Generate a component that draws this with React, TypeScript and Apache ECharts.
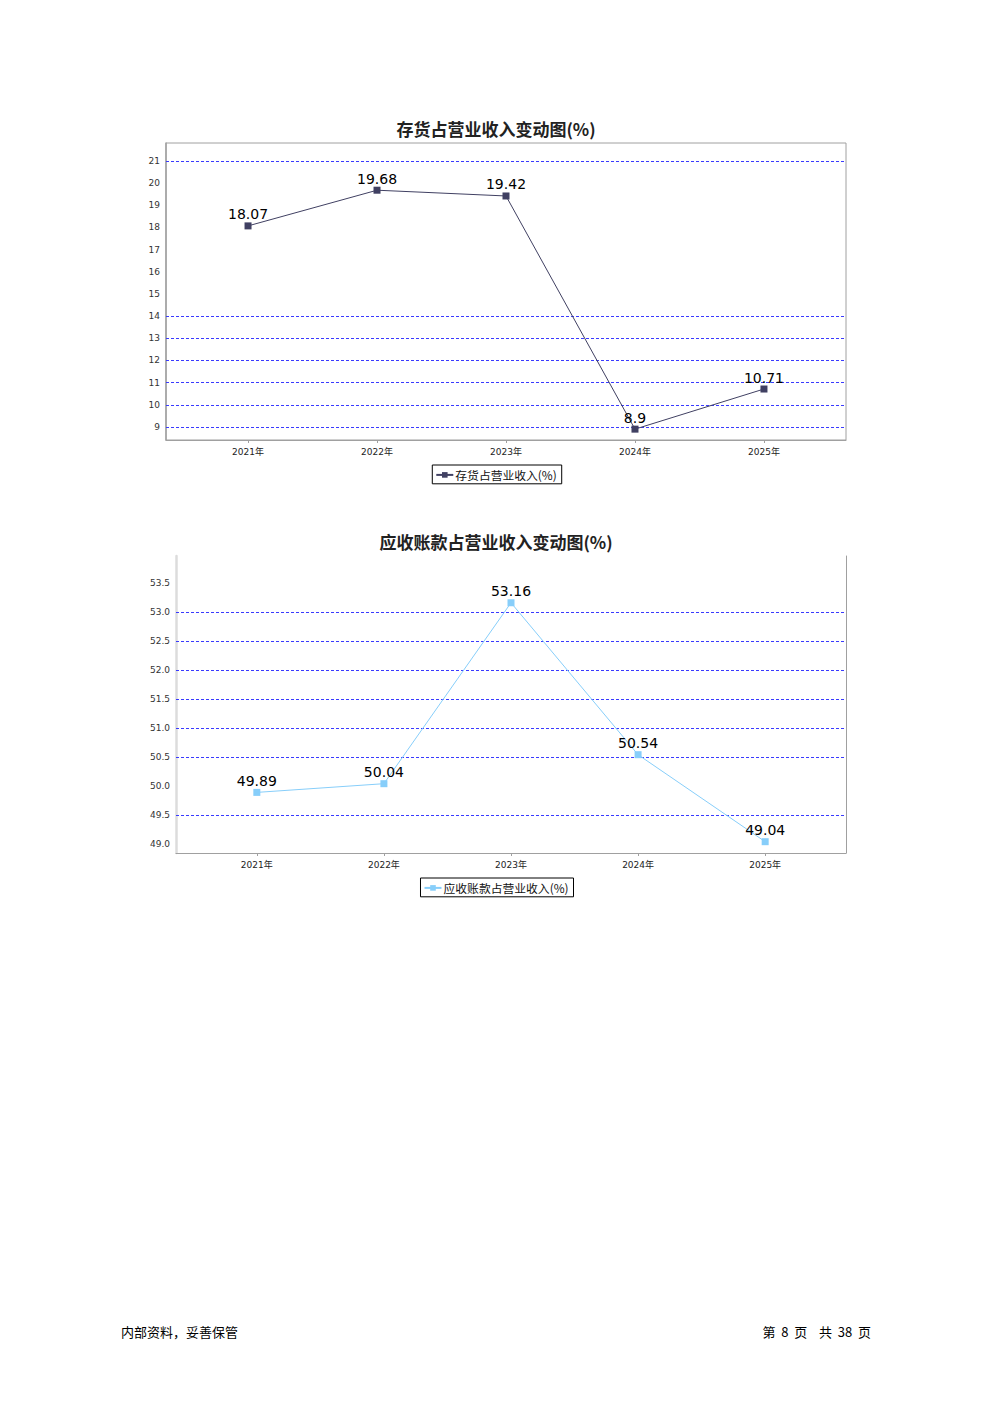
import React, { useEffect, useRef } from "react";
import * as echarts from "echarts";

const years = ["2021年", "2022年", "2023年", "2024年", "2025年"];
const yearIndex = [0, 1, 2, 3, 4];

const inventoryRatio = [18.07, 19.68, 19.42, 8.9, 10.71];
const receivableRatio = [49.89, 50.04, 53.16, 50.54, 49.04];

const inventoryTicks = [9, 10, 11, 12, 13, 14, 15, 16, 17, 18, 19, 20, 21];
const inventoryGridLines = [9, 10, 11, 12, 13, 14, 21];
const inventoryRange = [8.41, 21.81];

const receivableTicks = [49.0, 49.5, 50.0, 50.5, 51.0, 51.5, 52.0, 52.5, 53.0, 53.5];
const receivableGridLines = [49.5, 50.5, 51.0, 51.5, 52.0, 52.5, 53.0];
const receivableRange = [48.845, 53.966];

const xRange = [-0.636, 4.636];

const FONT = "'DejaVu Sans', 'Noto Sans CJK SC', sans-serif";
const CJK = "'Noto Sans CJK SC', 'DejaVu Sans', sans-serif";

function gridMarkLine(values: number[]) {
  return {
    silent: true,
    symbol: ["none", "none"],
    label: { show: false },
    lineStyle: { color: "#3a3aff", type: [3, 2], width: 1 },
    data: values.map((v) => ({ yAxis: v })),
    z: 1,
  };
}

function xAxisFor(gridIndex: number) {
  return {
    type: "value",
    gridIndex,
    min: xRange[0],
    max: xRange[1],
    splitLine: { show: false },
    axisLine: { show: true, onZero: false, lineStyle: { color: "#a0a0a0", width: 1 } },
    axisTick: { show: true, length: 3, customValues: yearIndex, lineStyle: { color: "#a0a0a0" } },
    axisLabel: {
      customValues: yearIndex,
      formatter: (v: number) => years[Math.round(v)],
      fontSize: 9,
      color: "#222",
      margin: 7,
      fontFamily: FONT,
    },
  };
}

function legendFor(name: string, top: number) {
  return {
    data: [name],
    left: "center",
    top,
    borderColor: "#000",
    borderWidth: 1,
    borderRadius: 0,
    padding: [4, 5, 3, 3],
    itemWidth: 17,
    itemHeight: 7,
    itemGap: 4,
    textStyle: { fontSize: 11.8, color: "#111", fontFamily: CJK, padding: [0, 0, 0, -3] },
  };
}

export default function App() {
  const ref = useRef<HTMLDivElement>(null);
  useEffect(() => {
    if (!ref.current) return;
    const chart = echarts.init(ref.current, undefined, { renderer: "svg" });
    const option: any = {
      animation: false,
      backgroundColor: "#fff",
      textStyle: { fontFamily: FONT },
      title: [
        {
          text: "存货占营业收入变动图(%)",
          left: "center",
          top: 115,
          textStyle: { fontSize: 17, fontWeight: "bold", color: "#222", fontFamily: CJK },
        },
        {
          text: "应收账款占营业收入变动图(%)",
          left: "center",
          top: 528,
          textStyle: { fontSize: 17, fontWeight: "bold", color: "#222", fontFamily: CJK },
        },
      ],
      legend: [legendFor("存货占营业收入(%)", 465), legendFor("应收账款占营业收入(%)", 878)],
      grid: [
        { left: 166, top: 143, width: 680, height: 297, show: true, borderColor: "#a0a0a0", borderWidth: 1, backgroundColor: "transparent" },
        { left: 176, top: 556, width: 670, height: 297, show: false },
      ],
      xAxis: [xAxisFor(0), xAxisFor(1)],
      yAxis: [
        {
          type: "value",
          gridIndex: 0,
          min: inventoryRange[0],
          max: inventoryRange[1],
          splitLine: { show: false },
          axisLine: { show: true, onZero: false, lineStyle: { color: "#a0a0a0", width: 1.5 } },
          axisTick: { show: false },
          axisLabel: {
            customValues: inventoryTicks,
            fontSize: 9,
            color: "#333",
            margin: 6,
            fontFamily: FONT,
          },
        },
        {
          type: "value",
          gridIndex: 1,
          min: receivableRange[0],
          max: receivableRange[1],
          splitLine: { show: false },
          axisLine: { show: true, onZero: false, lineStyle: { color: "#dcdcdc", width: 2.5 } },
          axisTick: { show: false },
          axisLabel: {
            customValues: receivableTicks,
            formatter: (v: number) => v.toFixed(1),
            fontSize: 9,
            color: "#333",
            margin: 6,
            fontFamily: FONT,
          },
        },
        {
          type: "value",
          gridIndex: 1,
          position: "right",
          min: receivableRange[0],
          max: receivableRange[1],
          splitLine: { show: false },
          axisLine: { show: true, onZero: false, lineStyle: { color: "#a0a0a0", width: 1 } },
          axisTick: { show: false },
          axisLabel: { show: false },
        },
      ],
      series: [
        {
          name: "存货占营业收入(%)",
          type: "line",
          xAxisIndex: 0,
          yAxisIndex: 0,
          data: inventoryRatio.map((v, i) => [yearIndex[i], v]),
          symbol: "rect",
          symbolSize: 7,
          color: "#404062",
          lineStyle: { width: 1, color: "#404062" },
          itemStyle: { color: "#404062" },
          label: { show: true, position: "top", distance: 1, fontSize: 14, color: "#000", fontFamily: FONT },
          markLine: gridMarkLine(inventoryGridLines),
          z: 3,
        },
        {
          name: "应收账款占营业收入(%)",
          type: "line",
          xAxisIndex: 1,
          yAxisIndex: 1,
          data: receivableRatio.map((v, i) => [yearIndex[i], v]),
          symbol: "rect",
          symbolSize: 7,
          color: "#87cefa",
          lineStyle: { width: 1, color: "#87cefa" },
          itemStyle: { color: "#87cefa" },
          label: { show: true, position: "top", distance: 1, fontSize: 14, color: "#000", fontFamily: FONT },
          markLine: gridMarkLine(receivableGridLines),
          z: 3,
        },
      ],
      graphic: [
        {
          type: "text",
          left: 121,
          top: 1325,
          style: { text: "内部资料，妥善保管", fill: "#000", font: "13px 'Noto Sans CJK SC', sans-serif" },
        },
        {
          type: "text",
          right: 121,
          top: 1325,
          style: {
            text: "第  8  页    共  38  页",
            fill: "#000",
            font: "13px 'Noto Sans CJK SC', serif",
          },
        },
      ],
    };
    chart.setOption(option);
    return () => chart.dispose();
  }, []);
  return (
    <div
      ref={ref}
      style={{ position: "absolute", left: 0, top: 0, width: 992, height: 1403 }}
    />
  );
}
